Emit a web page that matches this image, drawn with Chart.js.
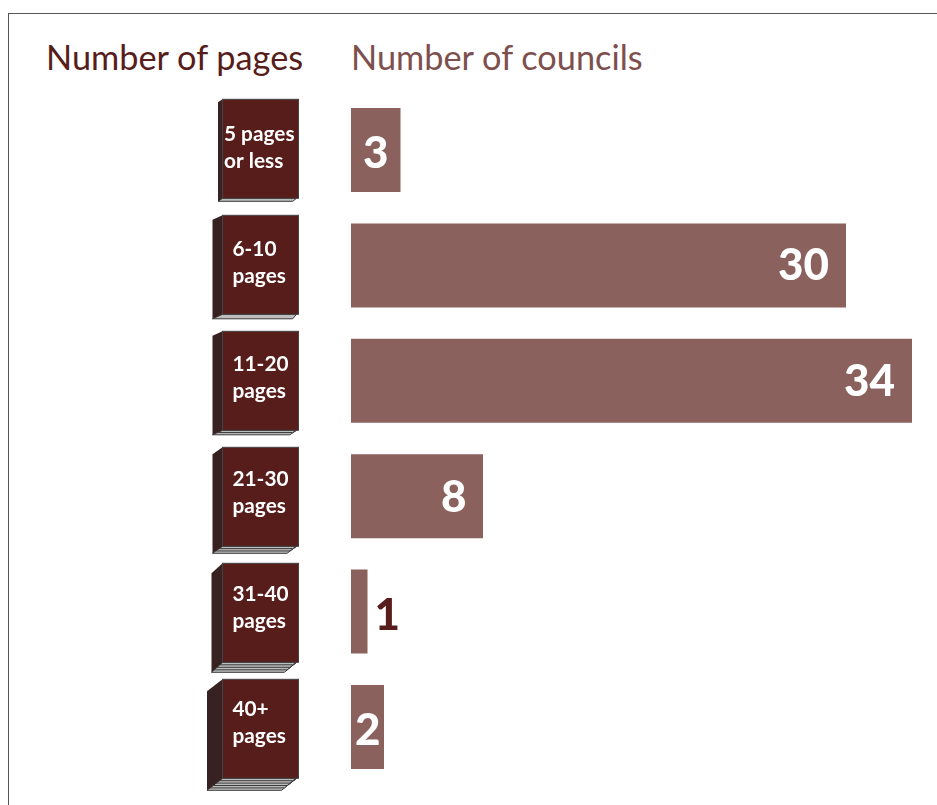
<!DOCTYPE html>
<html>
<head>
<meta charset="utf-8">
<script src="https://cdn.jsdelivr.net/npm/chart.js@4"></script>
<style>
body { margin: 0; background: #fff; }
#wrap { position: relative; width: 937px; height: 805px; overflow: hidden; }
#frame { position: absolute; left: 8px; top: 13px; width: 940px; height: 800px; border-left: 1px solid #555; border-top: 1px solid #555; }
.heading { position: absolute; top: 36px; font: 34.3px Lato, sans-serif; white-space: nowrap; }
#pages_heading { left: 46px; color: #561d1b; }
#councils_heading { left: 351px; color: #7d4f4d; }
canvas { position: absolute; left: 0; top: 0; }
</style>
</head>
<body>
<div id="wrap">
  <div id="frame"></div>
  <div id="pages_heading" class="heading">Number of pages</div>
  <div id="councils_heading" class="heading">Number of councils</div>
  <canvas id="councils_chart" width="937" height="805"></canvas>
</div>
<script>
const categories = ['5 pages or less', '6-10 pages', '11-20 pages', '21-30 pages', '31-40 pages', '40+ pages'];
const book_labels = [['5 pages', 'or less'], ['6-10', 'pages'], ['11-20', 'pages'], ['21-30', 'pages'], ['31-40', 'pages'], ['40+', 'pages']];
const councils = [3, 30, 34, 8, 1, 2];

const spine_widths = [4.5, 10, 10, 10, 11, 15.5];
const spine_drops = [3, 4.5, 4.5, 7, 10, 12];
const page_layers = [1, 1, 2, 3, 4, 5];
const label_lefts = [224, 232.5, 232.5, 232.5, 232.5, 232.5];
const value_insets = [12, 17, 17, 16.5, -32.5, 3.5];
const value_drops = [17.5, 15, 15.5, 16, 18.5, 18];

const BOOK_FRONT_LEFT = 222.5;
const BOOK_FRONT_RIGHT = 298.5;
const BOOK_HEIGHT = 99;

// one book per category, hung off the category scale
const booksPlugin = {
    id: 'books',
    afterDraw(chart){
        const ctx = chart.ctx;
        const y_scale = chart.scales.y;
        ctx.save();
        categories.forEach((name, i) => {
            const centre = y_scale.getPixelForValue(i);
            const top = centre - 1.2 + i * 0.6 - BOOK_HEIGHT / 2;
            drawBook(ctx, top, spine_widths[i], spine_drops[i], page_layers[i]);

            const first_line = centre - 9.2 - i * 0.4;
            ctx.fillStyle = '#ffffff';
            ctx.font = 'bold 20.8px Lato, sans-serif';
            ctx.textAlign = 'left';
            ctx.textBaseline = 'alphabetic';
            ctx.fillText(book_labels[i][0], label_lefts[i], first_line);
            ctx.fillText(book_labels[i][1], label_lefts[i], first_line + 26.8);
        });
        ctx.restore();
    }
};

function drawBook(ctx, top, spine, drop, layers){
    const bottom = top + BOOK_HEIGHT;
    const layer_step = drop / layers;

    // page block, each layer steps down and left along the spine's foot
    for(let n = layers; n >= 1; n--){
        const left = BOOK_FRONT_LEFT - spine * n / layers;
        const right = BOOK_FRONT_RIGHT - 3 - n * 2.8;
        const lower = bottom + n * layer_step;
        ctx.beginPath();
        ctx.moveTo(BOOK_FRONT_LEFT, bottom);
        ctx.lineTo(BOOK_FRONT_RIGHT - 2, bottom);
        ctx.lineTo(right, lower);
        ctx.lineTo(left, lower);
        ctx.closePath();
        ctx.fillStyle = '#bdbdbd';
        ctx.fill();
        ctx.strokeStyle = '#3a3a3a';
        ctx.lineWidth = 1;
        ctx.stroke();
    }

    // spine
    ctx.beginPath();
    ctx.moveTo(BOOK_FRONT_LEFT, top);
    ctx.lineTo(BOOK_FRONT_LEFT - spine, top + drop);
    ctx.lineTo(BOOK_FRONT_LEFT - spine, bottom + drop);
    ctx.lineTo(BOOK_FRONT_LEFT, bottom);
    ctx.closePath();
    ctx.fillStyle = '#382221';
    ctx.fill();

    // cover
    ctx.fillStyle = '#561d1b';
    ctx.strokeStyle = '#444444';
    ctx.lineWidth = 1;
    ctx.fillRect(BOOK_FRONT_LEFT, top, BOOK_FRONT_RIGHT - BOOK_FRONT_LEFT, BOOK_HEIGHT);
    ctx.strokeRect(BOOK_FRONT_LEFT, top, BOOK_FRONT_RIGHT - BOOK_FRONT_LEFT, BOOK_HEIGHT);
}

// council counts written at the end of each bar
const valueLabelsPlugin = {
    id: 'valueLabels',
    afterDatasetsDraw(chart){
        const ctx = chart.ctx;
        const meta = chart.getDatasetMeta(0);
        ctx.save();
        ctx.font = '900 44px Lato, sans-serif';
        ctx.textAlign = 'right';
        ctx.textBaseline = 'alphabetic';
        meta.data.forEach((bar, i) => {
            ctx.fillStyle = value_insets[i] < 0 ? '#561d1b' : '#ffffff';
            ctx.fillText(String(councils[i]), bar.x - value_insets[i], bar.y + value_drops[i]);
        });
        ctx.restore();
    }
};

const ctx = document.getElementById('councils_chart').getContext('2d');
new Chart(ctx, {
    type: 'bar',
    data: {
        labels: categories,
        datasets: [{
            label: 'Number of councils',
            data: councils,
            backgroundColor: '#8a615d',
            borderWidth: 0,
            categoryPercentage: 1,
            barPercentage: 0.728
        }]
    },
    plugins: [booksPlugin, valueLabelsPlugin],
    options: {
        indexAxis: 'y',
        responsive: false,
        animation: false,
        layout: {
            padding: { left: 351, right: 25, top: 92.3, bottom: 20.3 }
        },
        plugins: {
            legend: { display: false },
            tooltip: { enabled: false }
        },
        scales: {
            x: { display: false, min: 0, max: 34 },
            y: { display: false }
        }
    }
});
</script>
</body>
</html>
